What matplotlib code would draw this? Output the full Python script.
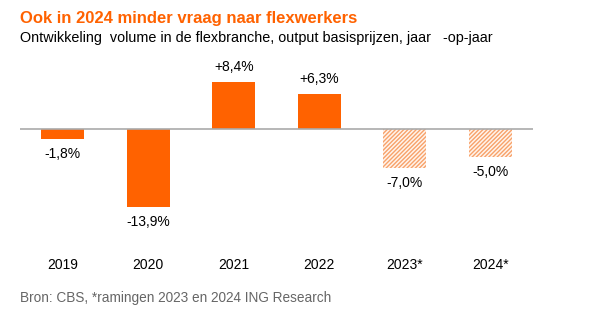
import matplotlib.pyplot as plt
import numpy as np

plt.rcParams['font.family'] = ['Liberation Sans', 'DejaVu Sans']
plt.rcParams['hatch.linewidth'] = 1.0

years = ['2019', '2020', '2021', '2022', '2023*', '2024*']
growth = [-1.8, -13.9, 8.4, 6.3, -7.0, -5.0]
labels = ['-1,8%', '-13,9%', '+8,4%', '+6,3%', '-7,0%', '-5,0%']
forecast = [False, False, False, False, True, True]

orange = '#FF6200'

fig = plt.figure(figsize=(6.16, 3.28), dpi=100)
W, H = 616, 328
ax = fig.add_axes([20 / W, 1 - 250 / H, 513 / W, 190 / H])

# label offset from the bar end, in data units (about 15 px)
off = 2.65

x = np.arange(len(years))
for xi, v, lab, fc in zip(x, growth, labels, forecast):
    if fc:
        ax.bar(xi, v, width=0.5, facecolor='#FFF4EC', edgecolor='#F8A26A',
               hatch='////////', linewidth=0)
    else:
        ax.bar(xi, v, width=0.5, color=orange)
    y = v + off if v >= 0 else v - off
    ax.text(xi, y, lab, ha='center', va='center', fontsize=10)

ax.axhline(0, color='#AAAAAA', linewidth=1.2)
ax.set_xlim(-0.5, 5.5)
ax.set_ylim(-21.6, 12.3)
ax.set_xticks(x)
ax.set_xticklabels(years, fontsize=10)
ax.tick_params(axis='x', length=0, pad=6)
ax.set_yticks([])
for s in ax.spines.values():
    s.set_visible(False)

fig.text(20 / W, 1 - 18 / H, 'Ook in 2024 minder vraag naar flexwerkers',
         color=orange, fontsize=12, fontweight='bold', va='center')
fig.text(20 / W, 1 - 38 / H,
         'Ontwikkeling  volume in de flexbranche, output basisprijzen, jaar   -op-jaar',
         fontsize=10.4, va='center')
fig.text(20 / W, 1 - 298 / H, 'Bron: CBS, *ramingen 2023 en 2024 ING Research',
         color='#666666', fontsize=9.8, va='center')

fig.savefig('out.png', dpi=100)
